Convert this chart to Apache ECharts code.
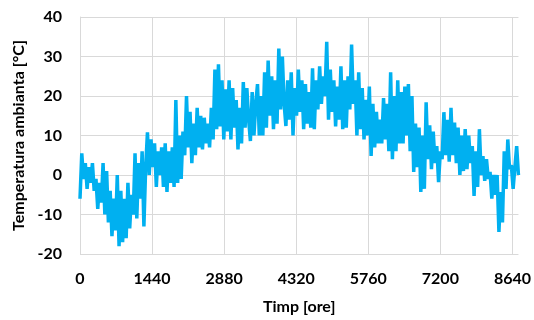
<!DOCTYPE html>
<html>
<head>
<meta charset="utf-8">
<script src="https://cdn.jsdelivr.net/npm/echarts@6/dist/echarts.min.js"></script>
<style>
  html, body { margin: 0; padding: 0; background: #fff; }
  #chart { width: 534px; height: 320px; }
</style>
</head>
<body>
<div id="chart"></div>
<script>
const temps = [
  -6, 5.5,
  -1, 3, -3.5, 2,
  -2, 3, -4,
  -1, -8.6, -2, -7,
  3, -10, 1,
  -12, -4, -15.5, -6, -14,
  0, -18,
  -4, -17, -6, -16,
  -2, -13.5, -5, -10,
  5.5, -11, 3, -6,
  6, -13, 2,
  10.8, 0, 9, 2,
  8, -3, 6, 0, 7,
  -3, 8,
  -4.3, 6, -2, 7, -3,
  19, -2, 10,
  -1, 11,
  5, 20, 7, 16,
  3, 13, 5,
  17, 7, 15,
  6.5, 14.5, 8, 13,
  7, 17, 9,
  26.7, 11.6,
  28, 12.3, 24,
  9, 21.7, 11,
  24, 9, 22, 12,
  19, 6.5, 17, 8,
  23.5, 12, 22, 14,
  8.6, 21, 10, 18,
  23, 10, 20,
  10, 26, 12,
  29, 15, 25,
  11.6, 24, 13,
  32, 16.6, 30, 18,
  12.4, 24, 14,
  26, 10, 22,
  15, 26.7, 16, 24,
  11.6, 23, 13, 21, 12,
  27, 11.6, 24,
  16.6, 27.5, 18, 25,
  20, 33.7,
  14, 26.7, 16, 24,
  12.3, 22.4, 14,
  27.5, 11.6, 24,
  12, 25,
  16.6, 33, 18,
  24, 10,
  26, 11.6, 22,
  9, 19, 10,
  22.4, 4.8, 18,
  7, 16, 8, 14,
  8, 19.5, 9, 18,
  6, 26,
  4, 20, 6,
  24, 8, 21,
  8, 22.4, 10,
  23, 6, 20,
  0.8, 13, 2,
  12, -4.3, 10, -3.5,
  18.4, 4,
  12.6, 1.5, 11, 3,
  7.3, -1.8, 6,
  4, 15.9, 5, 14,
  3.4, 17, 5,
  13.3, 3, 12,
  0, 10, 1,
  11.6, 1.5, 10, 3,
  7.3, -5.3, 6, -3,
  11.6, 0,
  4.8, -1.5, 4, -1,
  0.8, -6, 0, -5, 0,
  -14.4, -4.3, -12,
  6, -3.5,
  9, 1.5,
  2.5, -3.5, 2,
  7.3, 0
]
const hoursInYear = 8760
const xTicks = 1440

const step = hoursInYear / (temps.length - 1)
const points = temps.map(function (v, i) {
  return [i * step, v]
})

const chart = echarts.init(document.getElementById('chart'), null, { renderer: 'canvas' })

const labelFont = {
  color: '#000',
  fontWeight: 'bold',
  fontSize: 16,
  fontFamily: 'Lato',
}

chart.setOption({
  animation: false,
  grid: { left: 80, right: 14, top: 17, bottom: 65 },
  xAxis: {
    type: 'value',
    min: 0,
    max: hoursInYear,
    interval: xTicks,
    name: 'Timp [ore]',
    nameLocation: 'middle',
    nameGap: 45,
    nameTextStyle: labelFont,
    axisLine: { show: true, lineStyle: { color: '#d9d9d9', width: 1 } },
    axisTick: { show: false },
    axisLabel: Object.assign({
      margin: 17,
      showMaxLabel: false,
      formatter: function (v) { return String(v) },
    }, labelFont),
    splitLine: { show: true, showMaxLine: false, lineStyle: { color: '#d9d9d9', width: 1 } },
  },
  yAxis: {
    type: 'value',
    min: -20,
    max: 40,
    interval: 10,
    name: 'Temperatura ambianta [°C]',
    nameLocation: 'middle',
    nameGap: 50,
    nameTextStyle: labelFont,
    axisLine: { show: true, lineStyle: { color: '#d9d9d9', width: 1 } },
    axisTick: { show: false },
    axisLabel: Object.assign({ margin: 18 }, labelFont),
    splitLine: { show: true, lineStyle: { color: '#d9d9d9', width: 1 } },
  },
  series: [
    {
      type: 'line',
      data: points,
      showSymbol: false,
      symbol: 'none',
      lineStyle: { color: '#00B0F0', width: 3.5 },
    },
  ],
})
</script>
</body>
</html>
